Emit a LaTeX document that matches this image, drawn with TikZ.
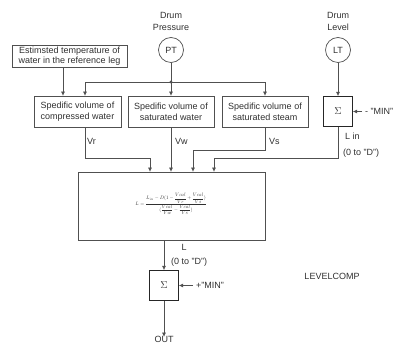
\documentclass[tikz,border=0pt]{standalone}
\usepackage{fontspec}
\usepackage{amsmath}
\setmainfont{Liberation Sans}
\usetikzlibrary{arrows.meta}
\definecolor{ln}{HTML}{505050}
\definecolor{tx}{HTML}{303030}
\begin{document}
\begin{tikzpicture}[x=1pt,y=-1pt,
  font=\fontsize{9}{11}\selectfont, text=tx,
  box/.style={draw=ln, line width=0.8pt, rectangle, inner sep=0pt, align=center, minimum height=31pt},
  sigbox/.style={draw=black!85, line width=1.3pt, rectangle, inner sep=0pt, minimum width=29pt, minimum height=30pt, font=\fontsize{10}{12}\selectfont},
  inst/.style={draw=ln, line width=0.7pt, circle, minimum size=25pt, inner sep=0pt},
  arr/.style={draw=ln, line width=0.7pt, -{Triangle[length=4pt,width=3.5pt]}},
  plain/.style={draw=ln, line width=0.7pt},
  lbl/.style={inner sep=0pt}
]
\useasboundingbox (0,0) rectangle (403,344);

% titles
\node[lbl, align=center, font=\fontsize{9}{12}\selectfont] (dp) at (171,21) {Drum\\Pressure};
\node[lbl, align=center, font=\fontsize{9}{12}\selectfont] (dl) at (338,21) {Drum\\Level};
\node[inst] (PT) at (171,50) {PT};
\node[inst] (LT) at (338,50) {LT};

% boxes
\node[box, minimum width=115pt, minimum height=22pt, font=\fontsize{9}{10.5}\selectfont] (est) at (69.5,56) {Estimsted temperature of\\water in the reference leg};
\node[box, minimum width=87pt] (b1) at (77.5,111.5) {Spedific volume of\\compressed water};
\node[box, minimum width=86pt] (b2) at (171,111.5) {Spedific volume of\\saturated water};
\node[box, minimum width=86pt] (b3) at (265,111.5) {Spedific volume of\\saturated steam};
\node[sigbox] (s1) at (338,111.5) {$\Sigma$};
\node[box, minimum width=187pt, minimum height=68pt] (big) at (171.5,206) {};
\node[lbl, scale=0.5, font=\fontsize{10}{12}\selectfont] (eq) at (171,204) {$\displaystyle L=\frac{L_{in}-D(1-\dfrac{Vcal}{Vr}+\dfrac{Vcal}{Vs})}{(\dfrac{Vcal}{Vw}-\dfrac{Vcal}{Vs})}$};
\node[sigbox] (s2) at (164,285.5) {$\Sigma$};

% connectors top
\coordinate (jn) at (171,82);
\draw[arr] ([xshift=-6.5pt]est.south) -- ([xshift=-14.5pt]b1.north);
\draw[arr] (PT) -- (b2);
\draw[arr] (jn) -| ([xshift=7.5pt]b1.north);
\draw[arr] (jn) -| (b3.north);
\fill[ln] (jn) circle (1.6pt);
\draw[arr] (LT) -- (s1);
\coordinate (m1) at (362,111.5);
\draw[arr] (m1) -- (s1.east);
\node[lbl, anchor=west] (m1t) at (365,111.5) {- "MIN"};

% outputs to big box
\draw[arr] ([xshift=7.5pt]b1.south) -- ++(0,31) -| ([xshift=-21.5pt]big.north);
\draw[arr] (b2.south) -- (b2.south |- big.north);
\draw[arr] (b3.south) -- ++(0,23) -| ([xshift=21.5pt]big.north);
\draw[arr] (s1.south) -- ++(0,31.5) -| ([xshift=42.5pt]big.north);
\node[lbl, anchor=west] (vr) at (87,141) {Vr};
\node[lbl, anchor=west] (vw) at (175,141) {Vw};
\node[lbl, anchor=west] (vs) at (269,141) {Vs};
\node[lbl, anchor=west] (lin) at (345,136) {L in};
\node[lbl, anchor=west] (lin2) at (343,153) {(0 to "D")};

% bottom
\draw[arr] (s2.north |- big.south) -- (s2.north);
\node[lbl] (l) at (184,247) {L};
\node[lbl, anchor=west] (l2) at (171,262) {(0 to "D")};
\coordinate (m2) at (193,285.5);
\draw[arr] (m2) -- (s2.east);
\node[lbl, anchor=west] (m2t) at (196,285.5) {+"MIN"};
\node[lbl] (out) at (164,339) {OUT};
\draw[arr] (s2.south) -- ([yshift=-1pt]out.north);
\node[lbl] (lc) at (332,276) {LEVELCOMP};
\end{tikzpicture}
\end{document}
